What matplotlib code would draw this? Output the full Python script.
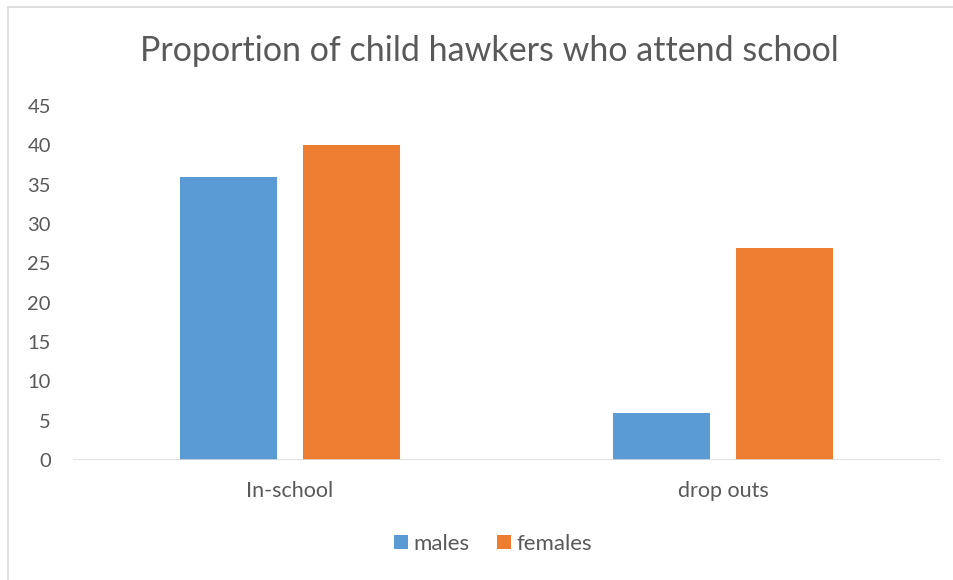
import numpy as np
import matplotlib.pyplot as plt
from matplotlib.patches import Rectangle

# datos
categorias = ["In-school", "drop outs"]
males = [36, 6]
females = [40, 27]
y_ticks = [0, 5, 10, 15, 20, 25, 30, 35, 40, 45]

azul = "#5B9BD5"
naranja = "#ED7D31"
gris_texto = "#595959"

plt.rcParams['font.family'] = ['Lato', 'DejaVu Sans']

fig = plt.figure(figsize=(9.54, 5.8), dpi=100)
ax = fig.add_axes([73 / 954, 1 - 460 / 580, (940 - 73) / 954, (460 - 106) / 580])

x = np.arange(len(categorias))
ancho = 0.224
desp = 0.142

ax.bar(x - desp, males, ancho, color=azul, label="males", zorder=2)
ax.bar(x + desp, females, ancho, color=naranja, label="females", zorder=2)

ax.set_xlim(-0.5, 1.5)
ax.set_ylim(0, 45)
ax.set_yticks(y_ticks)
ax.set_xticks(x)
ax.set_xticklabels(categorias)

for s in ax.spines.values():
    s.set_visible(False)
ax.axhline(0, color="#D9D9D9", lw=1.2, zorder=3)

ax.tick_params(axis="y", length=0, pad=16, labelsize=14.5, labelcolor=gris_texto)
ax.tick_params(axis="x", length=0, pad=15, labelsize=15.5, labelcolor=gris_texto)

fig.text(489 / 954, 1 - 51 / 580, "Proportion of child hawkers who attend school",
         ha="center", va="center", fontsize=24.5, color=gris_texto)

ax.legend(loc="center", bbox_to_anchor=(493 / 954, 1 - 544 / 580), bbox_transform=fig.transFigure,
          ncol=2, frameon=False, fontsize=16, labelcolor=gris_texto,
          handlelength=0.63, handleheight=0.63, handletextpad=0.25, columnspacing=1.2)

# marco del gráfico
fig.patches.append(Rectangle((8 / 954, -0.1), 1.2, 1 - 7 / 580 + 0.1, transform=fig.transFigure,
                             fill=False, edgecolor="#D9D9D9", lw=1.2))

fig.savefig("out.png", dpi=100)
